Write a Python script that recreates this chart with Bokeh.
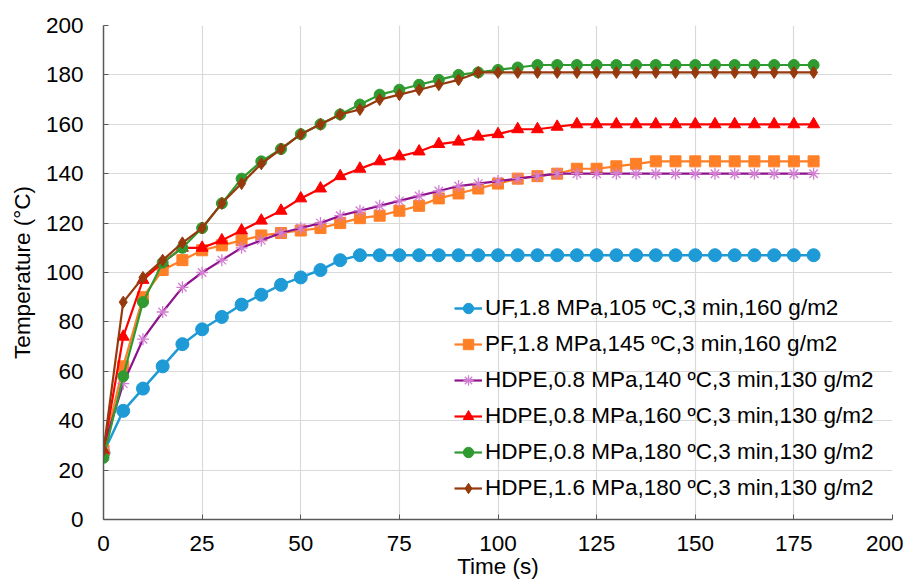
from bokeh.plotting import figure
from bokeh.models import Range1d, FixedTicker, Legend, LegendItem
from bokeh.embed import file_html
from bokeh.resources import INLINE

# ---- data ----
time_s = [0, 5, 10, 15, 20, 25, 30, 35, 40, 45, 50, 55, 60, 65, 70, 75, 80, 85, 90,
          95, 100, 105, 110, 115, 120, 125, 130, 135, 140, 145, 150, 155, 160, 165,
          170, 175, 180]

uf_105 = [27, 44, 53, 62, 71, 77, 82, 87, 91, 95, 98, 101, 105, 107, 107, 107, 107,
          107, 107, 107, 107, 107, 107, 107, 107, 107, 107, 107, 107, 107, 107, 107,
          107, 107, 107, 107, 107]
pf_145 = [28, 62, 90, 101, 105, 109, 111, 113, 115, 116, 117, 118, 120, 122, 123, 125,
          127, 130, 132, 134, 136, 138, 139, 140, 142, 142, 143, 144, 145, 145, 145,
          145, 145, 145, 145, 145, 145]
hdpe_140 = [29, 55, 73, 84, 94, 100, 105, 110, 113, 116, 118, 120, 123, 125, 127, 129,
            131, 133, 135, 136, 137, 138, 139, 140, 140, 140, 140, 140, 140, 140, 140,
            140, 140, 140, 140, 140, 140]
hdpe_160 = [28, 74, 97, 104, 110, 110, 113, 117, 121, 125, 130, 134, 139, 142, 145, 147,
            149, 152, 153, 155, 156, 158, 158, 159, 160, 160, 160, 160, 160, 160, 160,
            160, 160, 160, 160, 160, 160]
hdpe_180 = [25, 58, 88, 104, 110, 118, 128, 138, 145, 150, 156, 160, 164, 168, 172, 174,
            176, 178, 180, 181, 182, 183, 184, 184, 184, 184, 184, 184, 184, 184, 184,
            184, 184, 184, 184, 184, 184]
hdpe16_180 = [28, 88, 98, 105, 112, 118, 128, 136, 144, 150, 156, 160, 164, 166, 170, 172,
              174, 176, 178, 181, 181, 181, 181, 181, 181, 181, 181, 181, 181, 181, 181,
              181, 181, 181, 181, 181, 181]

labels = [
    "UF,1.8 MPa,105 ºC,3 min,160 g/m2",
    "PF,1.8 MPa,145 ºC,3 min,160 g/m2",
    "HDPE,0.8 MPa,140 ºC,3 min,130 g/m2",
    "HDPE,0.8 MPa,160 ºC,3 min,130 g/m2",
    "HDPE,0.8 MPa,180 ºC,3 min,130 g/m2",
    "HDPE,1.6 MPa,180 ºC,3 min,130 g/m2",
]
x_ticks = [0, 25, 50, 75, 100, 125, 150, 175, 200]
y_ticks = [0, 20, 40, 60, 80, 100, 120, 140, 160, 180, 200]

FONT = "Liberation Sans"
FS = "22.5px"

p = figure(width=903, height=587, output_backend="svg", toolbar_location=None,
           x_range=Range1d(0, 200), y_range=Range1d(0, 200),
           min_border_left=103, min_border_right=11, min_border_top=25,
           min_border_bottom=68)
p.outline_line_color = None
p.background_fill_color = "white"
p.border_fill_color = "white"

for ax in (p.xaxis[0], p.yaxis[0]):
    ax.axis_line_color = "#595959"
    ax.axis_line_width = 1.5
    ax.major_tick_line_color = "#595959"
    ax.major_tick_in = 5
    ax.major_tick_out = 0
    ax.minor_tick_line_color = None
    ax.major_label_text_font = FONT
    ax.major_label_text_font_size = FS
    ax.major_label_text_color = "#000000"
    ax.axis_label_text_font = FONT
    ax.axis_label_text_font_size = FS
    ax.axis_label_text_font_style = "normal"
    ax.axis_label_text_color = "#000000"

p.xaxis.ticker = FixedTicker(ticks=x_ticks)
p.yaxis.ticker = FixedTicker(ticks=y_ticks)
p.xaxis.axis_label = "Time (s)"
p.yaxis.axis_label = "Temperature (°C)"
p.xaxis.major_label_standoff = 16
p.xaxis.axis_label_standoff = 0
p.yaxis.major_label_standoff = 20
p.yaxis.axis_label_standoff = 8

p.xgrid.ticker = FixedTicker(ticks=x_ticks)
p.ygrid.ticker = FixedTicker(ticks=y_ticks)
p.grid.grid_line_color = "#d9d9d9"
p.grid.grid_line_width = 1.2

series = [
    (uf_105, "#1E9AD6", "#1E9AD6", "circle", 13, 2.5),
    (pf_145, "#FF7F27", "#FF7F27", "square", 11, 2.2),
    (hdpe_140, "#8E118E", "#D27ED2", "asterisk", 12, 2.2),
    (hdpe_160, "#FF0000", "#FF0000", "triangle", 12, 2.2),
    (hdpe_180, "#2F9A2F", "#2F9A2F", "circle", 11, 2.2),
    (hdpe16_180, "#963A0E", "#963A0E", "diamond", 12, 2.2),
]

items = []
for (vals, lc, mc, marker, size, lw), lab in zip(series, labels):
    r1 = p.line(time_s, vals, line_color=lc, line_width=lw)
    if marker == "asterisk":
        r2 = p.scatter(time_s, vals, marker=marker, size=size, line_color=mc,
                       line_width=1.3)
    else:
        r2 = p.scatter(time_s, vals, marker=marker, size=size, fill_color=mc,
                       line_color=mc)
    items.append(LegendItem(label=lab, renderers=[r1, r2]))

legend = Legend(items=items, location=(351, 18))
legend.background_fill_alpha = 0
legend.border_line_color = None
legend.padding = 0
legend.margin = 0
legend.spacing = 10
legend.glyph_width = 28
legend.glyph_height = 26
legend.label_height = 26
legend.label_standoff = 3
legend.label_text_font = FONT
legend.label_text_font_size = FS
legend.label_text_color = "#000000"
p.add_layout(legend, "center")

open("out.html", "w").write(file_html(p, INLINE))
